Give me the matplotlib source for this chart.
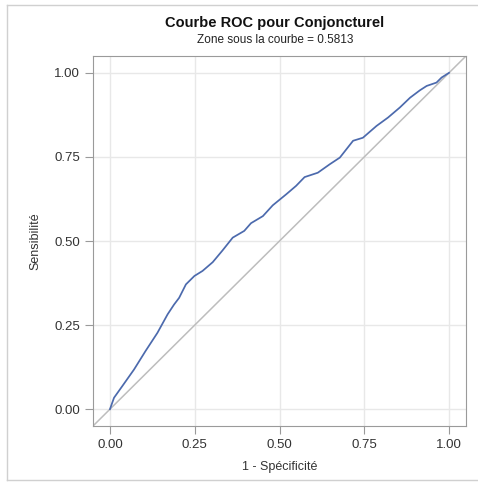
import matplotlib.pyplot as plt
from matplotlib.lines import Line2D

# ROC curve points
fpr = [0, 0.012, 0.036, 0.071, 0.105, 0.14, 0.17, 0.189, 0.204, 0.224, 0.249,
       0.273, 0.303, 0.332, 0.362, 0.396, 0.416, 0.451, 0.480, 0.520, 0.549,
       0.574, 0.613, 0.648, 0.678, 0.717, 0.746, 0.786, 0.820, 0.855, 0.885,
       0.914, 0.934, 0.963, 0.978, 1.0]
tpr = [0, 0.034, 0.068, 0.118, 0.173, 0.227, 0.282, 0.311, 0.331, 0.371, 0.396,
       0.411, 0.437, 0.472, 0.510, 0.530, 0.553, 0.574, 0.606, 0.639, 0.664,
       0.690, 0.703, 0.728, 0.748, 0.798, 0.807, 0.842, 0.867, 0.897, 0.926,
       0.948, 0.961, 0.971, 0.986, 1.0]
ticks = [0.0, 0.25, 0.5, 0.75, 1.0]
tickLabels = ["0.00", "0.25", "0.50", "0.75", "1.00"]
auc = 0.5813

plt.rcParams['font.family'] = ['Liberation Sans', 'DejaVu Sans']

fig = plt.figure(figsize=(4.78, 4.83), dpi=100)
ax = fig.add_axes([93/478, 1 - 426/483, (466 - 93)/478, (426 - 56)/483])

# outer frame of the output cell
W, H = 478, 483
fig.add_artist(Line2D([7/W, 7/W], [1 - 480/H, 1 - 5/H], color="#d0d0d0", lw=1))
fig.add_artist(Line2D([7/W, 1], [1 - 5/H, 1 - 5/H], color="#d0d0d0", lw=1))
fig.add_artist(Line2D([7/W, 1], [1 - 480/H, 1 - 480/H], color="#d0d0d0", lw=1))

ax.plot([-0.05, 1.05], [-0.05, 1.05], color="#bdbdbd", lw=1.1, zorder=2)
ax.plot(fpr, tpr, color="#4c6aad", lw=1.25, zorder=3)

ax.set_xlim(-0.05, 1.05)
ax.set_ylim(-0.05, 1.05)
ax.set_xticks(ticks)
ax.set_xticklabels(tickLabels)
ax.set_yticks(ticks)
ax.set_yticklabels(tickLabels)
ax.grid(True, color="#e8e8e8", lw=1)
ax.set_axisbelow(True)
for s in ax.spines.values():
    s.set_color("#9a9a9a")
ax.tick_params(colors="#333333", labelsize=9.5, length=6, color="#9a9a9a")
ax.set_xlabel("1 - Spécificité", fontsize=9, color="#333333", labelpad=7)
ax.set_ylabel("Sensibilité", fontsize=9, color="#333333", labelpad=9)

fig.text(0.575, 1 - 23/483, "Courbe ROC pour Conjoncturel", ha="center", va="center",
         fontsize=10.5, fontweight="bold", color="#111111")
fig.text(0.575, 1 - 40/483, "Zone sous la courbe = %.4f" % auc, ha="center", va="center",
         fontsize=8.5, color="#222222")

fig.savefig("out.png", dpi=100)
